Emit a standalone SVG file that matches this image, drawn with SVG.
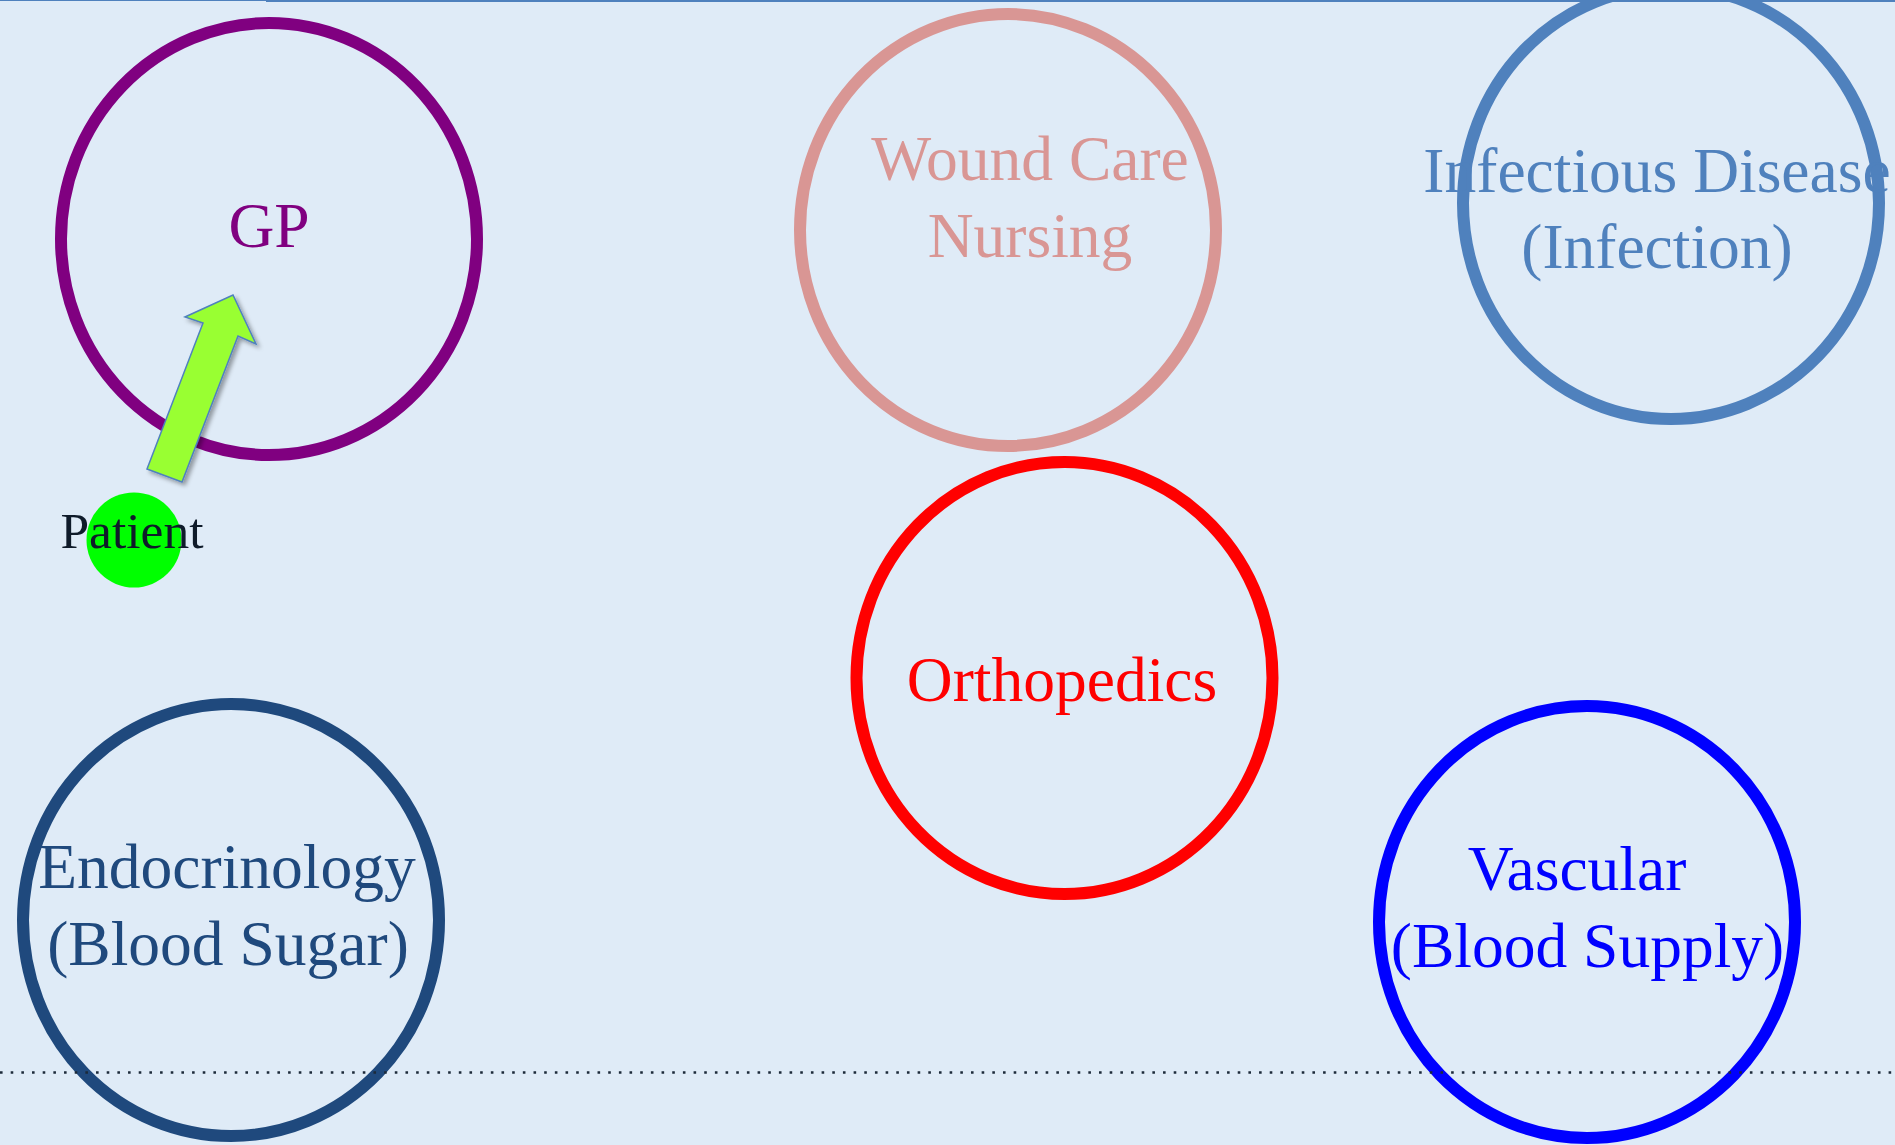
<svg xmlns="http://www.w3.org/2000/svg" width="1895" height="1145" viewBox="0 0 1895 1145">
  <style>
    .ring { fill: none; stroke-width: 12; }
    .lbl { font-family: "Liberation Serif", "Times New Roman", serif; font-size: 63.5px; text-anchor: middle; }
  </style>
  <defs>
    <filter id="shadow" x="-30%" y="-30%" width="160%" height="160%">
      <feDropShadow dx="3" dy="3" stdDeviation="2" flood-color="#000000" flood-opacity="0.35"/>
    </filter>
  </defs>
  <rect x="0" y="0" width="1895" height="1145" fill="#dfebf7"/>

  <g id="node-gp">
    <ellipse class="ring" cx="269" cy="239" rx="208" ry="216" stroke="#800080"/>
    <text class="lbl" x="269" y="247" fill="#800080">GP</text>
  </g>
  <g id="node-wound-care">
    <ellipse class="ring" cx="1008" cy="230" rx="208" ry="216" stroke="#d99694"/>
    <text class="lbl" x="1030" y="180" fill="#d99694">Wound Care</text>
    <text class="lbl" x="1030" y="257" fill="#d99694">Nursing</text>
  </g>
  <g id="node-infectious">
    <ellipse class="ring" cx="1671" cy="203" rx="208" ry="216" stroke="#4f81bd"/>
    <text class="lbl" x="1657" y="192" fill="#4f81bd">Infectious Disease</text>
    <text class="lbl" x="1657" y="268" fill="#4f81bd">(Infection)</text>
  </g>
  <g id="node-orthopedics">
    <ellipse class="ring" cx="1064.5" cy="678" rx="208" ry="216" stroke="#ff0000"/>
    <text class="lbl" x="1062" y="701" fill="#ff0000">Orthopedics</text>
  </g>
  <g id="node-endocrinology">
    <ellipse class="ring" cx="231" cy="920" rx="208" ry="216" stroke="#1f497d"/>
    <text class="lbl" x="227" y="888" fill="#1f497d">Endocrinology</text>
    <text class="lbl" x="228" y="965" fill="#1f497d">(Blood Sugar)</text>
  </g>
  <g id="node-vascular">
    <ellipse class="ring" cx="1587" cy="922" rx="208" ry="216" stroke="#0000ff"/>
    <text class="lbl" x="1577" y="890" fill="#0000ff">Vascular</text>
    <text class="lbl" x="1587.5" y="967" fill="#0000ff">(Blood Supply)</text>
  </g>

  <g id="connectors">
    <polygon points="147,469 182,482 238,336 256,344 233,295 185,317 203,323" fill="#99ff33" stroke="#4f81bd" stroke-width="1.5" stroke-linejoin="miter" filter="url(#shadow)"/>
  </g>

  <g id="node-patient">
    <circle cx="134" cy="540" r="47.5" fill="#00ff00"/>
    <text x="132" y="548" font-family="Liberation Serif, Times New Roman, serif" font-size="51.5" text-anchor="middle" fill="#0f1b2a">Patient</text>
  </g>

  <line x1="0" y1="1072.5" x2="1895" y2="1072.5" stroke="#1c2a3a" stroke-width="2.6" stroke-dasharray="2.6 8.07"/>
  <line x1="0" y1="0.5" x2="266" y2="0.5" stroke="#4f81bd" stroke-width="1"/>
  <rect x="266" y="0" width="1629" height="2" fill="#4f81bd"/>
</svg>
